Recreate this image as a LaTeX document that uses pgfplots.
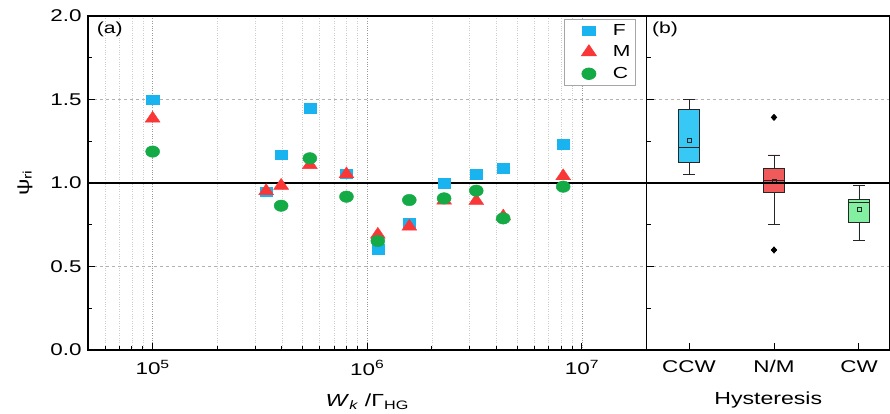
\documentclass[border=0pt]{standalone}
\usepackage{fontspec}
\setmainfont{Liberation Sans}[FakeStretch=1.32]
\usepackage{pgfplots}
\pgfplotsset{compat=1.18}
\usepgfplotslibrary{statistics}
\definecolor{cF}{RGB}{25,180,240}
\definecolor{cM}{RGB}{250,55,55}
\definecolor{cC}{RGB}{20,170,70}
\definecolor{bCCW}{RGB}{55,200,245}
\definecolor{bNM}{RGB}{240,90,90}
\definecolor{bCW}{RGB}{130,240,160}
\begin{document}
\begin{tikzpicture}
\pgfplotsset{
  common/.style={
    scale only axis, anchor=south west, height=334pt,
    ymin=0, ymax=2,
    ytick={0,0.5,1,1.5,2}, minor ytick={0.25,0.75,1.25,1.75},
    xtick pos=bottom, ytick pos=left, tick align=inside,
    major tick length=7pt, minor tick length=4pt,
    ymajorgrids, major y grid style={dashed, gray!60, line width=0.6pt},
    axis line style={line width=1.2pt},
    every tick/.style={line width=1pt, black},
    tick label style={font=\fontsize{17}{17}\selectfont},
    xticklabel style={yshift=-7pt},
    label style={font=\fontsize{17.5}{18}\selectfont},
    xlabel style={yshift=-12pt},
  },
}
\begin{axis}[common,
  at={(88pt,64pt)}, width=558.5pt,
  xmode=log, log basis x=10, xmin=5e4, xmax=2e7,
  xtick={1e5,1e6,1e7},
  xticklabels={10\textsuperscript{5},10\textsuperscript{6},10\textsuperscript{7}},
  minor xtick={6e4,7e4,8e4,9e4,2e5,3e5,4e5,5e5,6e5,7e5,8e5,9e5,2e6,3e6,4e6,5e6,6e6,7e6,8e6,9e6},
  xmajorgrids, xminorgrids,
  major x grid style={dotted, gray!80, line width=0.7pt},
  minor x grid style={dotted, gray!40, line width=0.6pt},
  yticklabel style={xshift=-3pt, /pgf/number format/.cd, fixed, fixed zerofill, precision=1, assume math mode=true},
  xlabel={\textit{W}\textsubscript{\textit{k}} /Γ\textsubscript{HG}},
  ylabel={ψ\textsubscript{ri}},
  ylabel style={at={(axis description cs:-0.113,0.5)}, anchor=center},
  legend style={at={(0.981,0.991)}, anchor=north east, draw=gray!70, line width=0.8pt,
    font=\fontsize{16}{19}\selectfont, inner sep=3pt, row sep=5pt},
  legend cell align=left,
  legend image code/.code={\draw[mark repeat=2,mark phase=2,#1,draw=none] plot coordinates {(0pt,0pt)(22pt,0pt)(44pt,0pt)};},
]
\addplot[draw=none, mark=square*, mark size=4.75pt, mark options={xscale=1.28, draw=cF, fill=cF}] coordinates {
(1e5,1.50) (3.38e5,0.948) (3.97e5,1.17) (5.4e5,1.447) (8.0e5,1.056) (1.12e6,0.603)
(1.57e6,0.758) (2.28e6,0.998) (3.22e6,1.052) (4.3e6,1.088) (8.18e6,1.232)};
\addlegendentry{F}
\addplot[draw=none, mark=triangle*, mark size=7.3pt, mark options={xscale=1.18, draw=cM, fill=cM}] coordinates {
(1e5,1.386) (3.38e5,0.952) (3.97e5,0.984) (5.4e5,1.108) (8.0e5,1.053) (1.12e6,0.691)
(1.57e6,0.739) (2.28e6,0.895) (3.22e6,0.893) (4.3e6,0.80) (8.18e6,1.041)};
\addlegendentry{M}
\addplot[draw=none, mark=*, mark size=5.75pt, mark options={xscale=1.22, draw=cC, fill=cC}] coordinates {
(1e5,1.188) (3.97e5,0.864) (5.4e5,1.148) (8.0e5,0.918) (1.12e6,0.653)
(1.57e6,0.898) (2.28e6,0.908) (3.22e6,0.954) (4.3e6,0.788) (8.18e6,0.978)};
\addlegendentry{C}
\addplot[black, line width=1.2pt, forget plot] coordinates {(5e4,1) (2e7,1)};
\node[font=\fontsize{16}{16}\selectfont] at (rel axis cs:0.039,0.961) {(a)};
\end{axis}
\begin{axis}[common,
  at={(646.5pt,64pt)}, width=243.5pt,
  xmin=0.5, xmax=3.365,
  xtick={1,2,3}, xticklabels={CCW,N/M,CW},
  yticklabels={},
  xlabel={Hysteresis},
  boxplot/draw direction=y,
  boxplot/every average/.style={/tikz/mark=square, mark size=2pt, mark options={xscale=1.2, draw=black!70, fill=none, line width=0.6pt}},
]
\addplot[fill=bCCW, draw=black!85, line width=0.8pt,
  boxplot prepared={draw position=1, lower whisker=1.052, lower quartile=1.122, median=1.211,
    upper quartile=1.443, upper whisker=1.50, average=1.257, box extend=0.25, whisker extend=0.14}]
  coordinates {};
\addplot[fill=bNM, draw=black!85, line width=0.8pt, mark=diamond*, mark size=3pt,
  mark options={fill=black, draw=black, xscale=1.2},
  boxplot prepared={draw position=2, lower whisker=0.754, lower quartile=0.946, median=1.018,
    upper quartile=1.086, upper whisker=1.168, average=1.008, box extend=0.25, whisker extend=0.14}]
  coordinates {(0,1.393) (0,0.599)};
\addplot[fill=bCW, draw=black!85, line width=0.8pt,
  boxplot prepared={draw position=3, lower whisker=0.654, lower quartile=0.766, median=0.884,
    upper quartile=0.900, upper whisker=0.988, average=0.842, box extend=0.25, whisker extend=0.14}]
  coordinates {};
\addplot[black, line width=1.2pt] coordinates {(0.5,1) (3.365,1)};
\node[font=\fontsize{16}{16}\selectfont] at (rel axis cs:0.076,0.961) {(b)};
\end{axis}
\pgfresetboundingbox
\path[use as bounding box] (0,0) rectangle (890pt,414pt);
\end{tikzpicture}
\end{document}
